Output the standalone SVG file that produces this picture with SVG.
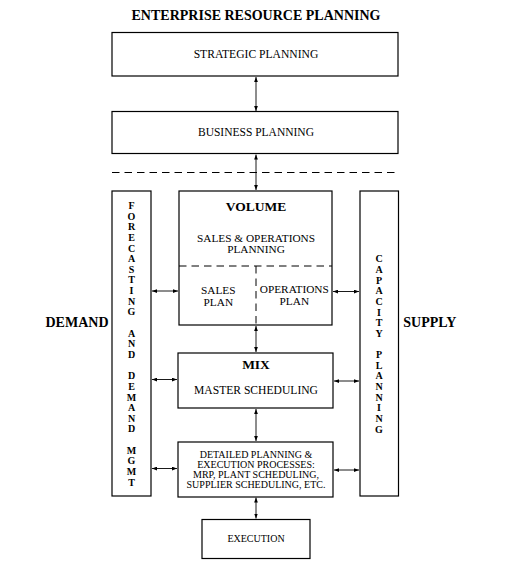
<svg xmlns="http://www.w3.org/2000/svg" width="515" height="576" viewBox="0 0 515 576">
<style>
text{font-family:"Liberation Serif","Times New Roman",serif;fill:#000}
.box{fill:#fff;stroke:#000;stroke-width:1.2}
.t{font-size:11.3px;text-anchor:middle}
.s{font-size:10px;text-anchor:middle}
.b{font-weight:bold;font-size:13.5px;text-anchor:middle}
.big{font-weight:bold;font-size:14px}
.col{font-weight:bold;font-size:10px;text-anchor:middle}
.dash{stroke:#000;stroke-width:1;stroke-dasharray:7.5,5;fill:none}
.arr{stroke:#000;stroke-width:0.9;fill:none;marker-start:url(#ah);marker-end:url(#ah)}
</style>
<defs>
<marker id="ah" viewBox="0 0 8 6" refX="8" refY="3" markerWidth="5" markerHeight="4" markerUnits="userSpaceOnUse" orient="auto-start-reverse">
<path d="M0,0 L8,3 L0,6 Z" fill="#000"/>
</marker>
</defs>
<text class="big" x="256" y="19.5" text-anchor="middle">ENTERPRISE RESOURCE PLANNING</text>
<g id="connectors">
<line class="arr" x1="256" y1="77" x2="256" y2="111"/>
<line class="arr" x1="256" y1="154.5" x2="256" y2="190"/>
<line class="dash" x1="112" y1="172.5" x2="399" y2="172.5"/>
<line class="arr" x1="256" y1="326" x2="256" y2="352"/>
<line class="arr" x1="256" y1="409" x2="256" y2="441"/>
<line class="arr" x1="256" y1="497.5" x2="256" y2="518.5"/>
<line class="arr" x1="152" y1="291" x2="178" y2="291"/>
<line class="arr" x1="333" y1="291.5" x2="359" y2="291.5"/>
<line class="arr" x1="152" y1="379.5" x2="177" y2="379.5"/>
<line class="arr" x1="334" y1="381" x2="359" y2="381"/>
<line class="arr" x1="152" y1="468.5" x2="177" y2="468.5"/>
<line class="arr" x1="334" y1="470" x2="359" y2="470"/>
</g>
<g id="strategic">
<rect class="box" x="112" y="32.5" width="286" height="43.5"/>
<text class="t" x="256" y="57.5" style="font-size:11.6px">STRATEGIC PLANNING</text>
</g>
<g id="business">
<rect class="box" x="112" y="111.5" width="286" height="42"/>
<text class="t" x="256" y="136" style="font-size:11.5px">BUSINESS PLANNING</text>
</g>
<g id="volume">
<rect class="box" x="179" y="191" width="153" height="134"/>
<text class="b" x="256" y="211">VOLUME</text>
<text class="t" x="256" y="241.7">SALES &amp; OPERATIONS</text>
<text class="t" x="256" y="253.3">PLANNING</text>
<line class="dash" x1="179" y1="266" x2="332" y2="266"/>
<line class="dash" x1="256" y1="266" x2="256" y2="325"/>
<text class="t" x="218.3" y="294">SALES</text>
<text class="t" x="218.3" y="305.7">PLAN</text>
<text class="t" x="294.3" y="292.7">OPERATIONS</text>
<text class="t" x="294.3" y="305">PLAN</text>
</g>
<g id="mix">
<rect class="box" x="178" y="353" width="155" height="55"/>
<text class="b" x="256" y="369.3">MIX</text>
<text class="t" x="256" y="394" style="font-size:11.6px">MASTER SCHEDULING</text>
</g>
<g id="detailed">
<rect class="box" x="178" y="442" width="155" height="55"/>
<text class="s" x="256" y="457.5">DETAILED PLANNING &amp;</text>
<text class="s" x="256" y="467.8">EXECUTION PROCESSES:</text>
<text class="s" x="256" y="478.1">MRP, PLANT SCHEDULING,</text>
<text class="s" x="256" y="488.4">SUPPLIER SCHEDULING, ETC.</text>
</g>
<g id="execution">
<rect class="box" x="202" y="519.5" width="108" height="39"/>
<text class="s" x="256" y="541.7">EXECUTION</text>
</g>
<g id="forecasting">
<rect class="box" x="112" y="191" width="39" height="305"/>
<text class="col"><tspan x="131.5" y="209">F</tspan><tspan x="131.5" dy="10.64">O</tspan><tspan x="131.5" dy="10.64">R</tspan><tspan x="131.5" dy="10.64">E</tspan><tspan x="131.5" dy="10.64">C</tspan><tspan x="131.5" dy="10.64">A</tspan><tspan x="131.5" dy="10.64">S</tspan><tspan x="131.5" dy="10.64">T</tspan><tspan x="131.5" dy="10.64">I</tspan><tspan x="131.5" dy="10.64">N</tspan><tspan x="131.5" dy="10.64">G</tspan><tspan x="131.5" dy="21.28">A</tspan><tspan x="131.5" dy="10.64">N</tspan><tspan x="131.5" dy="10.64">D</tspan><tspan x="131.5" dy="21.28">D</tspan><tspan x="131.5" dy="10.64">E</tspan><tspan x="131.5" dy="10.64">M</tspan><tspan x="131.5" dy="10.64">A</tspan><tspan x="131.5" dy="10.64">N</tspan><tspan x="131.5" dy="10.64">D</tspan><tspan x="131.5" dy="21.28">M</tspan><tspan x="131.5" dy="10.64">G</tspan><tspan x="131.5" dy="10.64">M</tspan><tspan x="131.5" dy="10.64">T</tspan></text>
</g>
<g id="capacity">
<rect class="box" x="360" y="191" width="38.5" height="305"/>
<text class="col"><tspan x="379" y="262.3">C</tspan><tspan x="379" dy="10.64">A</tspan><tspan x="379" dy="10.64">P</tspan><tspan x="379" dy="10.64">A</tspan><tspan x="379" dy="10.64">C</tspan><tspan x="379" dy="10.64">I</tspan><tspan x="379" dy="10.64">T</tspan><tspan x="379" dy="10.64">Y</tspan><tspan x="379" dy="21.28">P</tspan><tspan x="379" dy="10.64">L</tspan><tspan x="379" dy="10.64">A</tspan><tspan x="379" dy="10.64">N</tspan><tspan x="379" dy="10.64">N</tspan><tspan x="379" dy="10.64">I</tspan><tspan x="379" dy="10.64">N</tspan><tspan x="379" dy="10.64">G</tspan></text>
</g>
<g id="demand">
<text class="big" x="108.5" y="327.3" text-anchor="end">DEMAND</text>
</g>
<g id="supply">
<text class="big" x="403.3" y="327.3">SUPPLY</text>
</g>
</svg>
